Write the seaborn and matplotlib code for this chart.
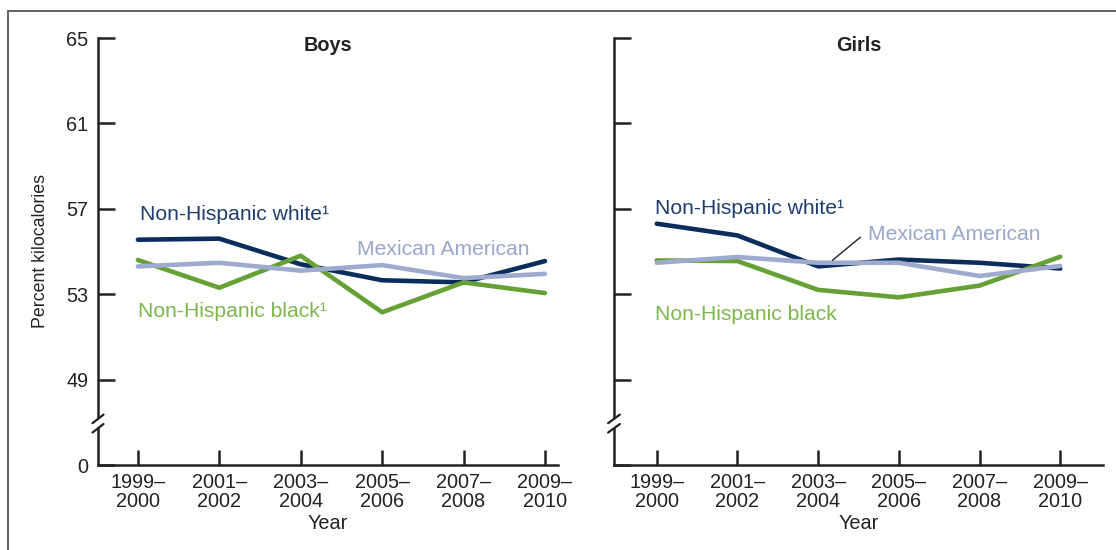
import numpy as np
import pandas as pd
import matplotlib
matplotlib.use("Agg")
import matplotlib.pyplot as plt
from matplotlib.patches import Rectangle
import seaborn as sns

# ---- data ----
periods = ["1999–\n2000", "2001–\n2002", "2003–\n2004", "2005–\n2006", "2007–\n2008", "2009–\n2010"]
groups = ["Non-Hispanic white", "Non-Hispanic black", "Mexican American"]

boys_white = [55.55, 55.6, 54.4, 53.65, 53.55, 54.55]
boys_black = [54.6, 53.3, 54.8, 52.15, 53.55, 53.05]
boys_mexican = [54.3, 54.47, 54.1, 54.36, 53.75, 53.95]

girls_white = [56.3, 55.75, 54.3, 54.62, 54.47, 54.2]
girls_black = [54.58, 54.55, 53.2, 52.85, 53.4, 54.75]
girls_mexican = [54.47, 54.74, 54.47, 54.47, 53.85, 54.32]

y_ticks = [0, 49, 53, 57, 61, 65]

colors = {"Non-Hispanic white": "#0b2d5c", "Non-Hispanic black": "#66a135", "Mexican American": "#9eabcf"}
label_colors = {"Non-Hispanic white": "#1f3d6e", "Non-Hispanic black": "#7cb84c", "Mexican American": "#9aa7cc"}

rows = []
for panel, series in [("Boys", [boys_white, boys_black, boys_mexican]),
                      ("Girls", [girls_white, girls_black, girls_mexican])]:
    for g, vals in zip(groups, series):
        for i, v in enumerate(vals):
            rows.append({"panel": panel, "group": g, "idx": i, "value": v})
df = pd.DataFrame(rows)

sns.set_theme(style="white")
plt.rcParams['font.family'] = ['Liberation Sans', 'DejaVu Sans']

W, H = 1116, 550
fig = plt.figure(figsize=(W / 100, H / 100), dpi=100)

# frame around the figure (cropped on the right and bottom like the reference)
fig.patches.append(Rectangle((8 / W, -0.2), 1.2, 1.2 - 11 / H, transform=fig.transFigure,
                             fill=False, edgecolor="#555555", linewidth=1.3))

BRK = 45.0
K = 1e-4


def fwd(y):
    y = np.asarray(y, dtype=float)
    return np.where(y >= BRK, y, BRK + (y - BRK) * K)


def inv(y):
    y = np.asarray(y, dtype=float)
    return np.where(y >= BRK, y, BRK + (y - BRK) / K)


axL = fig.add_axes([98 / W, 1 - 465 / H, (558 - 98) / W, (465 - 38) / H])
axR = fig.add_axes([614 / W, 1 - 465 / H, (1103 - 614) / W, (465 - 38) / H])

FS = 14.3
LFS = 15.2
TXT = "#222222"
for ax, panel, xlim in [(axL, "Boys", (-0.49, 5.16)), (axR, "Girls", (-0.53, 5.53))]:
    sub = df[df.panel == panel]
    sns.lineplot(data=sub, x="idx", y="value", hue="group", hue_order=groups,
                 palette=colors, linewidth=3.3, ax=ax, legend=False, zorder=3)
    ax.set_yscale("function", functions=(fwd, inv))
    ax.set_ylim(0, 65)
    ax.set_xlim(*xlim)
    ax.set_yticks(y_ticks)
    ax.set_xticks(range(len(periods)))
    ax.set_xticklabels(periods, fontsize=FS, color=TXT, linespacing=1.0)
    ax.set_xlabel("Year", fontsize=FS, color=TXT, labelpad=2)
    for s in ["top", "right"]:
        ax.spines[s].set_visible(False)
    for s in ["left", "bottom"]:
        ax.spines[s].set_color(TXT)
        ax.spines[s].set_linewidth(1.8)
    ax.tick_params(axis="both", which="major", bottom=True, left=True, direction="in",
                   length=11, width=1.8, color=TXT, pad=6)
    ax.tick_params(axis="y", length=12)
    ax.grid(False)
    ax.set_title(panel, fontsize=FS, fontweight="bold", color=TXT, y=0.97, pad=0)
    # axis break on the y spine
    ax.plot([-0.02, 0.02], [0.088, 0.104], transform=ax.transAxes, color="white",
            linewidth=6, clip_on=False, zorder=5, solid_capstyle="butt")
    ax.plot([-0.012, 0.012], [0.076, 0.096], transform=ax.transAxes, color=TXT,
            linewidth=1.6, clip_on=False, zorder=6)
    ax.plot([-0.012, 0.012], [0.098, 0.118], transform=ax.transAxes, color=TXT,
            linewidth=1.6, clip_on=False, zorder=6)

axL.set_yticklabels([str(t) for t in y_ticks], fontsize=FS, color=TXT)
axL.tick_params(axis="y", pad=7)
axL.set_ylabel("Percent kilocalories", fontsize=12.8, color=TXT, labelpad=12)
axR.set_yticklabels([])
axR.set_ylabel("")

# series labels
axL.text(0.03, 56.75, "Non-Hispanic white¹", color=label_colors["Non-Hispanic white"], fontsize=LFS, va="center")
axL.text(2.69, 55.1, "Mexican American", color=label_colors["Mexican American"], fontsize=LFS, va="center")
axL.text(0.0, 52.2, "Non-Hispanic black¹", color=label_colors["Non-Hispanic black"], fontsize=LFS, va="center")

axR.text(-0.02, 57.0, "Non-Hispanic white¹", color=label_colors["Non-Hispanic white"], fontsize=LFS, va="center")
axR.text(2.62, 55.8, "Mexican American", color=label_colors["Mexican American"], fontsize=LFS, va="center")
axR.text(-0.02, 52.05, "Non-Hispanic black", color=label_colors["Non-Hispanic black"], fontsize=LFS, va="center")
axR.annotate("", xy=(2.15, 54.5), xytext=(2.55, 55.75),
             arrowprops=dict(arrowstyle="-", color=TXT, linewidth=1.0))

fig.savefig("out.png", dpi=100)
